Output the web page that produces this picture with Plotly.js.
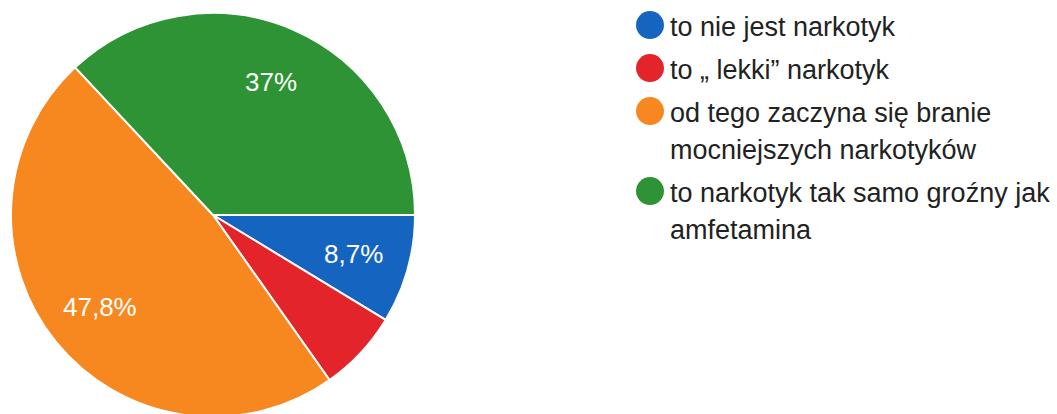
<!DOCTYPE html>
<html>
<head>
<meta charset="utf-8">
<script src="https://cdn.plot.ly/plotly-3.0.1.min.js"></script>
<style>
html,body{margin:0;padding:0;background:#fff;overflow:hidden;}
#chart{width:1057px;height:420px;}
</style>
</head>
<body>
<div id="chart"></div>
<script>
// Data
const categories = [
  'to nie jest narkotyk',
  'to \u201e lekki\u201d narkotyk',
  'od tego zaczyna się branie<br>mocniejszych narkotyków',
  'to narkotyk tak samo groźny jak<br>amfetamina'
];
const counts = [4, 3, 22, 17];
const colors = ['#1565c0', '#e3242b', '#f7881f', '#2e9334'];

const total = counts.reduce((a, b) => a + b, 0);
const labelText = counts.map(v => {
  const p = v / total * 100;
  if (p < 7) return '';
  let s = (Math.round(p * 10) / 10).toString();
  return s.replace('.', ',') + '%';
});

const W = 1057, H = 420;
const cx = 213, cy = 215, r = 202;
const FONT = 'Liberation Sans, Arial, sans-serif';
const LEGEND_SIZE = 27;

// label annotations placed at slice mid-angles (clockwise from 3 o'clock)
const annotations = [];
let cum = 0;
counts.forEach((v, i) => {
  const mid = (cum + v / 2) / total * 2 * Math.PI;
  cum += v;
  if (!labelText[i]) return;
  const rr = 0.72 * r;
  const px = cx + rr * Math.cos(mid);
  const py = cy + rr * Math.sin(mid);
  annotations.push({
    xref: 'paper', yref: 'paper',
    x: px / W, y: (H - py) / H,
    xanchor: 'center', yanchor: 'middle',
    text: labelText[i], showarrow: false,
    font: {family: FONT, size: 26, color: '#ffffff'}
  });
});

const trace = {
  type: 'pie',
  labels: categories,
  values: counts,
  textinfo: 'none',
  marker: {colors: colors, line: {color: '#ffffff', width: 2}},
  sort: false,
  direction: 'clockwise',
  rotation: 90,
  hoverinfo: 'none',
  domain: {
    x: [(cx - r) / W, (cx + r) / W],
    y: [(H - cy - r) / H, (H - cy + r) / H]
  }
};

const layout = {
  width: W,
  height: H,
  margin: {l: 0, r: 0, t: 0, b: 0},
  paper_bgcolor: '#ffffff',
  showlegend: true,
  annotations: annotations,
  legend: {
    x: 630 / W,
    y: 1 - 1 / H,
    xanchor: 'left',
    yanchor: 'top',
    font: {family: FONT, size: LEGEND_SIZE, color: '#222222'},
    itemwidth: 30
  }
};

const ENTRY_GAP = 43, LINE_GAP = 37;

Plotly.newPlot('chart', [trace], layout, {staticPlot: true}).then(gd => {
  const legend = document.querySelector('.legend');
  legend.querySelectorAll('[clip-path]').forEach(el => el.removeAttribute('clip-path'));
  legend.querySelectorAll('path.legendpie').forEach(p => {
    p.setAttribute('d', 'M14,0A14,14 0 1,1 0,-14A14,14 0 0,1 14,0Z');
    p.style.strokeWidth = '0px';
  });
  const baseline = 0.3 * 1.3 * LEGEND_SIZE;
  const items = legend.querySelectorAll('g.traces');
  let first = null, offset = 0;
  items.forEach((g, i) => {
    const m = /translate\(\s*([-\d.]+)[ ,]+([-\d.]+)\s*\)/.exec(g.getAttribute('transform') || '');
    if (!m) return;
    const x = parseFloat(m[1]), y = parseFloat(m[2]);
    const lines = categories[i].split('<br>').length;
    // symbol centre of a multi-line entry sits mid-block: convert to first-line position
    const firstLineY = y - (lines - 1) * 1.3 * LEGEND_SIZE / 2;
    if (first === null) first = firstLineY;
    g.setAttribute('transform', 'translate(' + x + ',' + (first + offset) + ')');
    const txt = g.querySelector('text.legendtext');
    if (txt) {
      txt.setAttribute('y', baseline);
      txt.querySelectorAll('tspan.line').forEach((t, j) => {
        t.setAttribute('y', baseline);
        t.setAttribute('dy', (j * LINE_GAP) + 'px');
      });
    }
    offset += ENTRY_GAP + LINE_GAP * (lines - 1);
  });
});
</script>
</body>
</html>
